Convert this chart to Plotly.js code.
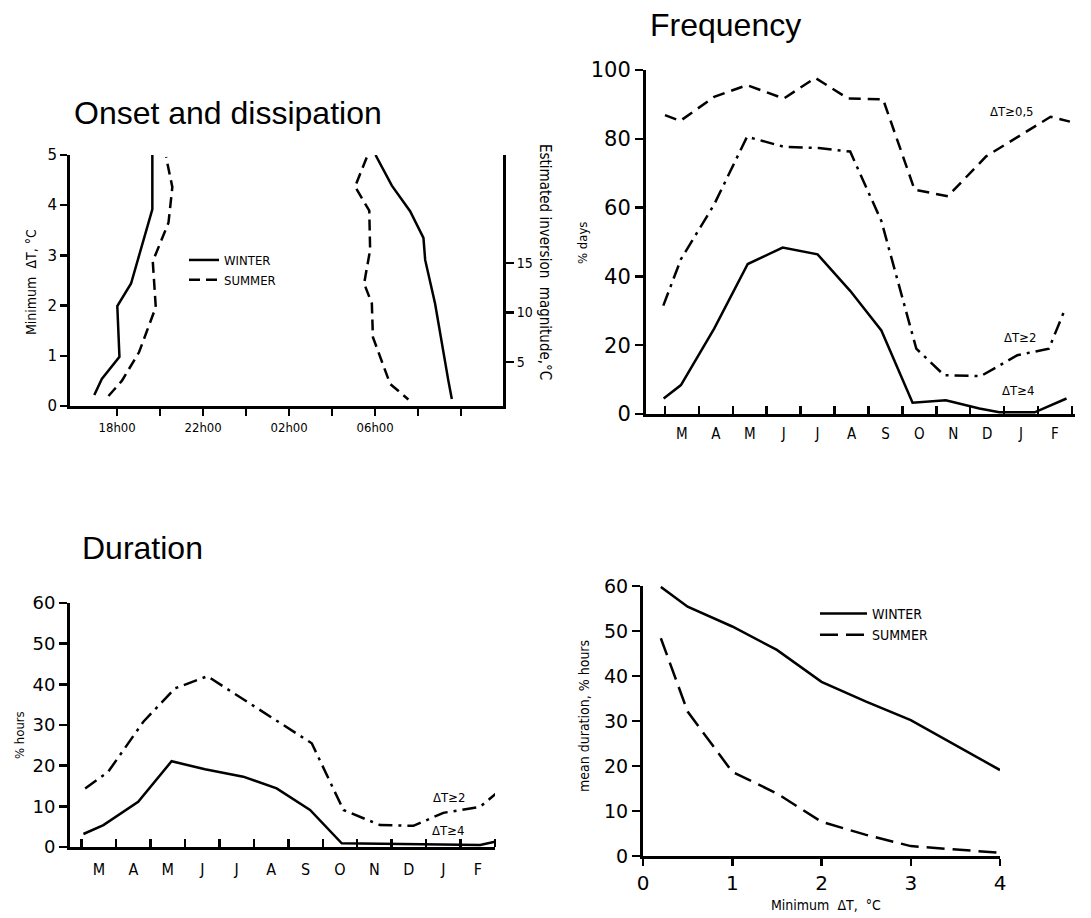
<!DOCTYPE html>
<html><head><meta charset="utf-8">
<script src="https://cdn.plot.ly/plotly-3.0.1.min.js"></script>
<style>html,body{margin:0;padding:0;background:#fff}#chart{width:1091px;height:918px}</style>
</head><body><div id="chart"></div>
<script>
// ---------- Panel 1: Onset and dissipation (x = clock hour, 24+ = next day) ----------
const onsetWinterHour = [16.94, 17.29, 18.11, 18.01, 18.65, 19.64, 19.64];
const onsetWinterDT   = [0.22, 0.54, 0.98, 1.99, 2.44, 3.92, 5.0];
const onsetSummerHour = [17.6, 18.22, 19.02, 19.8, 19.66, 20.39, 20.57, 20.28];
const onsetSummerDT   = [0.2, 0.5, 1.07, 1.97, 2.88, 3.65, 4.36, 4.96];
const dissWinterHour  = [30.02, 30.78, 31.63, 32.25, 32.33, 32.79, 33.41, 33.57];
const dissWinterDT    = [5.0, 4.39, 3.88, 3.35, 2.91, 2.04, 0.5, 0.14];
const dissSummerHour  = [29.61, 29.07, 29.73, 29.77, 29.49, 29.85, 29.9, 30.7, 31.55];
const dissSummerDT    = [4.95, 4.37, 3.89, 3.11, 2.44, 2.04, 1.37, 0.44, 0.13];
const hourTickVals  = [18, 20, 22, 24, 26, 28, 30, 32, 34];
const hourTickText  = ['18h00', '', '22h00', '', '02h00', '', '06h00', '', ''];
const magnitudeTicks = [5, 10, 15];

// ---------- Panel 2: Frequency (% days), x = month position ----------
const monthLabels = ['M', 'A', 'M', 'J', 'J', 'A', 'S', 'O', 'N', 'D', 'J', 'F'];
const monthLabelPos = [0.5, 1.5, 2.5, 3.5, 4.5, 5.5, 6.5, 7.5, 8.5, 9.5, 10.5, 11.5];
const monthBoundaries = [0, 1, 2, 3, 4, 5, 6, 7, 8, 9, 10, 11, 12];
const freq05Month = [0.0, 0.45, 1.45, 2.42, 3.5, 4.43, 5.4, 6.43, 7.36, 8.34, 9.47, 11.37, 11.94];
const freq05Days  = [86.9, 85.2, 92.2, 95.6, 91.7, 97.7, 91.7, 91.5, 65.2, 63.3, 74.9, 86.4, 85.0];
const freq2Month  = [-0.05, 0.47, 1.45, 2.42, 3.5, 4.53, 5.46, 6.38, 7.41, 8.23, 9.31, 10.39, 11.32, 11.78];
const freq2Days   = [31.5, 45.0, 60.9, 80.6, 77.7, 77.3, 76.3, 56.1, 19.0, 11.3, 11.0, 17.1, 19.0, 30.1];
const freq4Month  = [-0.04, 0.47, 1.45, 2.44, 3.47, 4.5, 5.46, 6.38, 7.3, 8.28, 9.27, 9.86, 10.9, 11.84];
const freq4Days   = [4.5, 8.4, 24.8, 43.6, 48.4, 46.4, 35.8, 24.3, 3.3, 4.0, 1.6, 0.5, 0.5, 4.5];

// ---------- Panel 3: Duration (% hours) ----------
const dur2Month = [0.1, 0.77, 1.79, 2.71, 3.65, 6.68, 7.6, 8.66, 9.63, 10.5, 11.57, 12.15];
const dur2Hours = [14.4, 18.5, 30.8, 39.0, 42.0, 25.5, 9.1, 5.4, 5.2, 8.4, 9.9, 14.0];
const dur4Month = [0.05, 0.63, 1.64, 2.61, 3.58, 4.69, 5.66, 6.63, 7.55, 9.5, 11.57, 12.0];
const dur4Hours = [3.2, 5.4, 11.1, 21.1, 19.1, 17.3, 14.4, 9.1, 0.9, 0.7, 0.5, 1.3];

// ---------- Panel 4: mean duration vs minimum dT ----------
const minDT         = [0.2, 0.5, 1.0, 1.5, 2.0, 2.5, 3.0, 4.0];
const meanDurWinter = [59.8, 55.4, 51.0, 45.8, 38.7, 34.3, 30.2, 19.1];
const meanDurSummer = [48.4, 32.1, 18.7, 13.9, 7.6, 4.7, 2.2, 0.7];

// ---------- styling ----------
const W = 1091, H = 918;
const px = v => v / W, py = v => 1 - v / H;
const NARROW = "'Liberation Sans Narrow', 'DejaVu Sans Condensed', 'Arial Narrow', sans-serif";
const SANS = "'Liberation Sans', Arial, Helvetica, sans-serif";
const DIGITS = "'DejaVu Sans', 'Liberation Sans', sans-serif";
const LW = 2.5;
const SOLID = 'solid', DASH1 = '11px,6px', DASH2 = '12px,7px', DASHDOT = '14px,6px,3px,6px', DASH4 = '18px,8px';

function line(x, y, xa, ya, dash, name, showlegend, legend) {
  return {type: 'scatter', mode: 'lines', x: x, y: y, xaxis: xa, yaxis: ya, name: name,
    line: {color: '#000', width: LW, dash: dash}, cliponaxis: false,
    showlegend: !!showlegend, legend: legend || 'legend', hoverinfo: 'skip'};
}

const traces = [
  line(onsetWinterHour, onsetWinterDT, 'x', 'y', SOLID, 'WINTER', true, 'legend'),
  line(onsetSummerHour, onsetSummerDT, 'x', 'y', DASH1, 'SUMMER', true, 'legend'),
  line(dissWinterHour, dissWinterDT, 'x', 'y', SOLID, 'WINTER', false),
  line(dissSummerHour, dissSummerDT, 'x', 'y', DASH1, 'SUMMER', false),
  // empty trace so that the right-hand magnitude axis is drawn
  {type: 'scatter', mode: 'lines', x: [], y: [], xaxis: 'x', yaxis: 'y2', showlegend: false, hoverinfo: 'skip'},
  line(freq05Month, freq05Days, 'x2', 'y3', DASH2, 'ΔT≥0,5', false),
  line(freq2Month, freq2Days, 'x2', 'y3', DASHDOT, 'ΔT≥2', false),
  line(freq4Month, freq4Days, 'x2', 'y3', SOLID, 'ΔT≥4', false),
  line(dur2Month, dur2Hours, 'x3', 'y4', DASHDOT, 'ΔT≥2', false),
  line(dur4Month, dur4Hours, 'x3', 'y4', SOLID, 'ΔT≥4', false),
  line(minDT, meanDurWinter, 'x4', 'y5', SOLID, 'WINTER', true, 'legend2'),
  line(minDT, meanDurSummer, 'x4', 'y5', DASH4, 'SUMMER', true, 'legend2')
];

const axBase = {showline: true, linewidth: 3, linecolor: '#000', showgrid: false, zeroline: false,
  ticks: 'outside', tickwidth: 2.5, ticklen: 7, tickcolor: '#000', fixedrange: true};

function monthAxis(domain, range, anchor, fontSize, standoff) {
  return Object.assign({}, axBase, {domain: domain, range: range, anchor: anchor,
    tickmode: 'array', tickvals: monthLabelPos, ticktext: monthLabels, ticks: '',
    ticklabelstandoff: standoff,
    tickfont: {family: NARROW, size: fontSize, color: '#000'},
    minor: {tickmode: 'array', tickvals: monthBoundaries, ticks: 'inside', ticklen: 8, tickwidth: 2.5, tickcolor: '#000'}});
}

const layout = {
  width: W, height: H, margin: {l: 0, r: 0, t: 0, b: 0},
  paper_bgcolor: '#fff', plot_bgcolor: 'rgba(0,0,0,0)',
  font: {family: SANS, color: '#000'},
  showlegend: true,
  // panel 1
  xaxis: Object.assign({}, axBase, {domain: [px(70), px(503)], range: [15.81, 35.95], anchor: 'y',
    tickmode: 'array', tickvals: hourTickVals, ticktext: hourTickText,
    tickfont: {family: NARROW, size: 13, color: '#000'}}),
  yaxis: Object.assign({}, axBase, {domain: [py(406), py(155)], range: [0, 5], anchor: 'x',
    tickmode: 'array', tickvals: [0, 1, 2, 3, 4, 5], tickfont: {family: DIGITS, size: 15, color: '#000'}}),
  yaxis2: Object.assign({}, axBase, {overlaying: 'y', side: 'right', anchor: 'x', range: [0.56, 25.9],
    tickmode: 'array', tickvals: magnitudeTicks, ticklen: 8, tickfont: {family: NARROW, size: 14, color: '#000'}}),
  // panel 2
  xaxis2: monthAxis([px(646), px(1075)], [-0.56, 12.09], 'y3', 15, 4),
  yaxis3: Object.assign({}, axBase, {domain: [py(414), py(70)], range: [0, 100], anchor: 'x2',
    tickmode: 'array', tickvals: [0, 20, 40, 60, 80, 100], ticklen: 8, tickfont: {family: DIGITS, size: 21, color: '#000'}}),
  // panel 3
  xaxis3: monthAxis([px(70), px(495)], [-0.34, 12.0], 'y4', 16, 6),
  yaxis4: Object.assign({}, axBase, {domain: [py(847), py(603)], range: [0, 60], anchor: 'x3',
    tickmode: 'array', tickvals: [0, 10, 20, 30, 40, 50, 60], ticklen: 8, tickfont: {family: DIGITS, size: 18, color: '#000'}}),
  // panel 4
  xaxis4: Object.assign({}, axBase, {domain: [px(643), px(1000)], range: [0, 4], anchor: 'y5',
    tickmode: 'array', tickvals: [0, 1, 2, 3, 4], ticklen: 7, tickfont: {family: DIGITS, size: 20, color: '#000'}}),
  yaxis5: Object.assign({}, axBase, {domain: [py(856), py(586)], range: [0, 60], anchor: 'x4',
    tickmode: 'array', tickvals: [0, 10, 20, 30, 40, 50, 60], ticklen: 8, tickfont: {family: DIGITS, size: 19, color: '#000'}}),
  legend: {x: px(184), y: py(245), xanchor: 'left', yanchor: 'top', bgcolor: 'rgba(0,0,0,0)',
    font: {family: NARROW, size: 13, color: '#000'}, tracegroupgap: 0},
  legend2: {x: px(815), y: py(598), xanchor: 'left', yanchor: 'top', bgcolor: 'rgba(0,0,0,0)',
    font: {family: NARROW, size: 14, color: '#000'}, tracegroupgap: 0, itemwidth: 47},
  annotations: [
    {text: 'Onset and dissipation', x: px(72), y: py(113), xanchor: 'left', font: {family: SANS, size: 32}},
    {text: 'Frequency', x: px(648), y: py(25), xanchor: 'left', font: {family: SANS, size: 32}},
    {text: 'Duration', x: px(80), y: py(548), xanchor: 'left', font: {family: SANS, size: 32}},
    {text: 'Minimum  ΔT, °C', x: px(31), y: py(282), textangle: -90, font: {family: NARROW, size: 14}},
    {text: 'Estimated inversion  magnitude,°C', x: px(545), y: py(262), textangle: 90, font: {family: NARROW, size: 15}},
    {text: '% days', x: px(583), y: py(243), textangle: -90, font: {family: NARROW, size: 13}},
    {text: '% hours', x: px(19), y: py(735), textangle: -90, font: {family: NARROW, size: 13}},
    {text: 'mean duration, % hours', x: px(584), y: py(716), textangle: -90, font: {family: NARROW, size: 14}},
    {text: 'Minimum  ΔT,  °C', x: px(826), y: py(905), font: {family: NARROW, size: 14}},
    {text: 'ΔT≥0,5', x: px(1012), y: py(112), font: {family: NARROW, size: 13}},
    {text: 'ΔT≥2', x: px(1020), y: py(338), font: {family: NARROW, size: 13}},
    {text: 'ΔT≥4', x: px(1018), y: py(390), font: {family: NARROW, size: 13}},
    {text: 'ΔT≥2', x: px(449), y: py(797), font: {family: NARROW, size: 13}},
    {text: 'ΔT≥4', x: px(448), y: py(830), font: {family: NARROW, size: 13}}
  ].map(a => Object.assign({xref: 'paper', yref: 'paper', showarrow: false, xanchor: 'center', yanchor: 'middle'}, a))
};
layout.annotations.forEach(a => { a.font.color = '#000'; });

Plotly.newPlot('chart', traces, layout, {staticPlot: true, displayModeBar: false});
</script></body></html>
